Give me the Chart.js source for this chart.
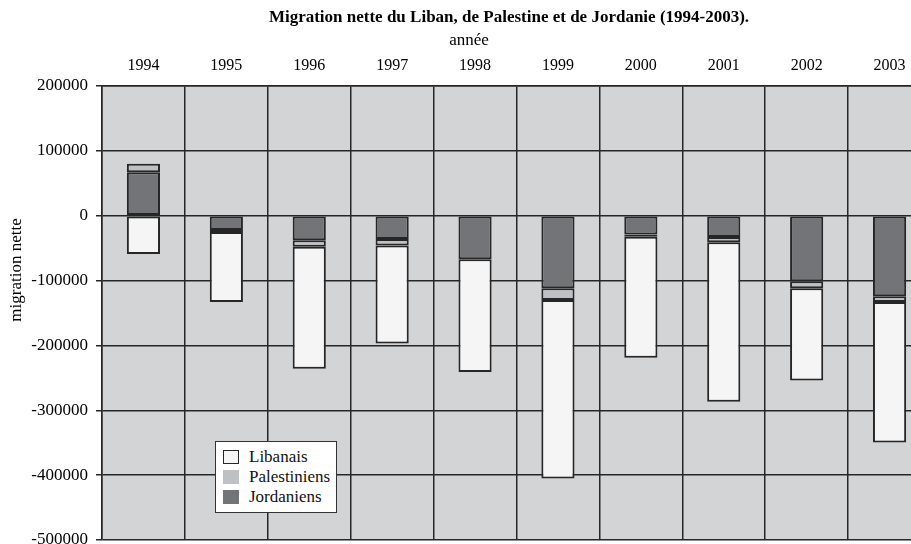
<!DOCTYPE html>
<html><head><meta charset="utf-8">
<script src="https://cdn.jsdelivr.net/npm/chart.js@4/dist/chart.umd.min.js"></script>
<style>
html,body{margin:0;padding:0;background:#fff;overflow:hidden;}
#wrap{position:relative;width:935px;height:544px;}
#legend{position:absolute;left:215px;top:441px;width:120px;height:70px;background:#fff;border:1px solid #333;font-family:"Liberation Serif","Times New Roman",serif;font-size:17px;color:#111;}
.item{position:absolute;left:7px;height:20px;display:flex;align-items:center;white-space:nowrap;}
.sw{width:16px;height:14px;box-sizing:border-box;margin-right:10px;}
</style></head>
<body><div id="wrap"><canvas id="c" width="935" height="544"></canvas><div id="legend"></div></div>
<script>
const title = 'Migration nette du Liban, de Palestine et de Jordanie (1994-2003).';
const xTitle = 'année';
const yTitle = 'migration nette';
const categories = ['1994','1995','1996','1997','1998','1999','2000','2001','2002','2003'];
const seriesNames = ['Jordaniens','Palestiniens','Libanais'];
const jordaniens   = [67000, -22000, -38000, -36000, -67000, -112000, -29000, -33000, -101000, -124000];
const palestiniens = [13000, -3000, -10000, -10000, 0, -18000, -3500, -8000, -11000, -9000];
const libanais     = [-59000, -108000, -188000, -151000, -174000, -275000, -186500, -246000, -142000, -216500];
const yMin = -500000, yMax = 200000, yStep = 100000;

const FONT = '"Liberation Serif","Times New Roman",serif';
const colors = {Jordaniens:'#737478', Palestiniens:'#bfc0c4', Libanais:'#f5f5f5'};
const edge = '#262626';
const gridColor = '#262626';

Chart.defaults.font.family = FONT;
Chart.defaults.color = '#000';

const values = [jordaniens, palestiniens, libanais];
const datasets = seriesNames.map((n,i)=>({
  label:n, data:values[i], backgroundColor:colors[n], borderColor:edge,
  borderWidth:2, borderSkipped:false, categoryPercentage:1, barPercentage:0.4
}));

const bgPlugin = {id:'plotbg', beforeDraw(chart){
  const a = chart.chartArea, ctx = chart.ctx;
  ctx.save(); ctx.fillStyle = '#d3d4d6'; ctx.fillRect(a.left, a.top, a.right-a.left, a.bottom-a.top); ctx.restore();
}};
const textPlugin = {id:'texts', afterDraw(chart){
  const ctx = chart.ctx; ctx.save();
  ctx.fillStyle = '#000'; ctx.textAlign = 'center'; ctx.textBaseline = 'middle';
  ctx.font = 'bold 17px ' + FONT;
  ctx.fillText(title, 509, 18);
  ctx.translate(17, 270); ctx.rotate(-Math.PI/2);
  ctx.font = '17px ' + FONT;
  ctx.fillText(yTitle, 0, 0); ctx.restore();
}};

const chart = new Chart(document.getElementById('c'), {
  type:'bar',
  data:{labels:categories, datasets},
  plugins:[bgPlugin, textPlugin],
  options:{
    responsive:false, animation:false, devicePixelRatio:1,
    layout:{padding:{left:7,right:4,top:25.5,bottom:4}},
    plugins:{
      legend:{display:false}, tooltip:{enabled:false},
      title:{display:false},
      subtitle:{display:true, text:xTitle, fullSize:true, color:'#000',
        font:{family:FONT,size:17,lineHeight:1}, padding:{top:6.5,bottom:0}}
    },
    scales:{
      x:{position:'top', stacked:true,
        grid:{offset:true, color:gridColor, lineWidth:1.5, drawTicks:false},
        border:{color:gridColor, width:1.5},
        ticks:{font:{family:FONT,size:16}, color:'#000', padding:11, maxRotation:0, autoSkip:false},
        afterFit(s){ s.height = 37; s.paddingLeft = 0; s.paddingRight = 0; }
      },
      y:{stacked:true, min:yMin, max:yMax,
        ticks:{stepSize:yStep, callback:v=>String(v), font:{family:FONT,size:17}, color:'#000', padding:8},
        grid:{color:gridColor, lineWidth:1.5, tickLength:6},
        border:{color:gridColor, width:1.5},
        afterFit(s){ s.width = 95; s.paddingTop = 0; s.paddingBottom = 0; }
      }
    }
  }
});

const leg = document.getElementById('legend');
const tops = [5, 24.5, 45];
datasets.slice().reverse().forEach((d,i)=>{
  const it = document.createElement('div'); it.className='item'; it.style.top = tops[i]+'px';
  const sw = document.createElement('span'); sw.className='sw'; sw.style.background = d.backgroundColor;
  if (d.label === 'Libanais') sw.style.border = '1.5px solid ' + edge;
  const tx = document.createElement('span'); tx.textContent = d.label;
  it.appendChild(sw); it.appendChild(tx); leg.appendChild(it);
});
</script>
</body></html>
